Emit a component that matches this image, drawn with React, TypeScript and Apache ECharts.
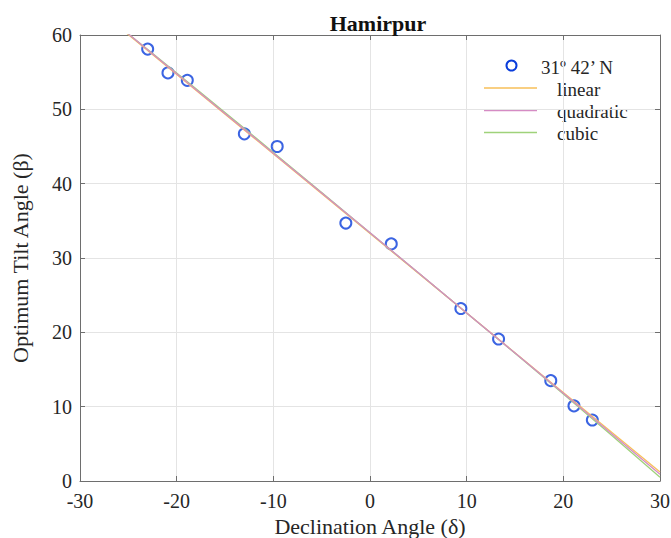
import React, { useEffect, useRef } from "react";
import * as echarts from "echarts";

// Observed data (declination angle vs optimum tilt angle)
const declination = [-23.0, -20.9, -18.9, -13.0, -9.6, -2.5, 2.2, 9.4, 13.3, 18.7, 21.1, 23.0];
const tilt = [58.1, 54.9, 53.9, 46.7, 45.0, 34.7, 31.9, 23.2, 19.1, 13.5, 10.1, 8.2];

// Fit curves
const linearX = [-30, 30];
const linearY = [65.4, 1.2];
const quadX = [-30, -20, -10, 0, 10, 20, 30];
const quadY = [65.5, 54.8, 44.1, 33.4, 22.6, 11.8, 0.9];
const cubicX = [-30, -20, -10, 0, 10, 20, 30];
const cubicY = [65.3, 54.9, 44.2, 33.4, 22.6, 11.7, 0.5];

const xTicks = { min: -30, max: 30, interval: 10 };
const yTicks = { min: 0, max: 60, interval: 10 };

const FONT = "'Liberation Serif', 'Times New Roman', serif";
const TEXT = "#262626";
const AXIS = "#6e6e6e";
const BLUE = "#0a3ddb";
const ORANGE = "#f7bf58";
const PINK = "#d58cc4";
const GREEN = "#9fd27a";

export default function App() {
  const ref = useRef<HTMLDivElement>(null);
  useEffect(() => {
    if (!ref.current) return;
    const chart = echarts.init(ref.current, undefined, { renderer: "svg" });
    const zip = (xs: number[], ys: number[]) => xs.map((x, i) => [x, ys[i]]);
    const tick = { show: true, inside: true, length: 5, lineStyle: { color: AXIS } };
    const line = { show: true, onZero: false, lineStyle: { color: AXIS } };
    chart.setOption({
      animation: false,
      backgroundColor: "#ffffff",
      title: {
        text: "Hamirpur",
        left: 373,
        top: 7,
        textAlign: "center",
        textStyle: { fontFamily: FONT, fontSize: 22, fontWeight: "bold", color: "#111" },
      },
      grid: { left: 80, right: 11, top: 35, bottom: 57, containLabel: false, outerBoundsMode: "none" },
      xAxis: [
        {
          type: "value",
          ...xTicks,
          name: "Declination Angle (δ)",
          nameLocation: "middle",
          nameGap: 32,
          nameTextStyle: { fontFamily: FONT, fontSize: 22, color: TEXT, lineHeight: 22 },
          axisLine: line,
          axisTick: tick,
          axisLabel: { fontFamily: FONT, fontSize: 20, color: TEXT, margin: 10 },
          splitLine: { show: true, lineStyle: { color: "#e4e4e4" } },
        },
        {
          type: "value",
          position: "top",
          ...xTicks,
          axisLine: line,
          axisTick: tick,
          axisLabel: { show: false },
          splitLine: { show: false },
        },
      ],
      yAxis: [
        {
          type: "value",
          ...yTicks,
          name: "Optimum Tilt Angle (β)",
          nameLocation: "middle",
          nameGap: 49,
          nameTextStyle: { fontFamily: FONT, fontSize: 22, color: TEXT },
          axisLine: line,
          axisTick: tick,
          axisLabel: { fontFamily: FONT, fontSize: 20, color: TEXT, margin: 8 },
          splitLine: { show: true, lineStyle: { color: "#e4e4e4" } },
        },
        {
          type: "value",
          position: "right",
          ...yTicks,
          axisLine: line,
          axisTick: tick,
          axisLabel: { show: false },
          splitLine: { show: false },
        },
      ],
      series: [
        {
          name: "31º 42’ N",
          type: "scatter",
          data: zip(declination, tilt),
          symbol: "circle",
          symbolSize: 11,
          itemStyle: { color: "rgba(0,0,0,0)", borderColor: BLUE, borderWidth: 2 },
          z: 2,
        },
        {
          name: "linear",
          type: "line",
          data: zip(linearX, linearY),
          showSymbol: false,
          clip: true,
          lineStyle: { color: ORANGE, width: 1.3 },
          z: 3,
        },
        {
          name: "quadratic",
          type: "line",
          data: zip(quadX, quadY),
          showSymbol: false,
          smooth: true,
          clip: true,
          lineStyle: { color: PINK, width: 1.3 },
          z: 4,
        },
        {
          name: "cubic",
          type: "line",
          data: zip(cubicX, cubicY),
          showSymbol: false,
          smooth: true,
          clip: true,
          lineStyle: { color: GREEN, width: 1.3 },
          z: 3,
        },
      ],
      graphic: [
        {
          type: "circle",
          shape: { cx: 511.5, cy: 65.5, r: 5 },
          style: { fill: "none", stroke: BLUE, lineWidth: 2 },
        },
        {
          type: "text",
          x: 541,
          y: 67,
          style: { text: "31º 42’ N", fontFamily: FONT, fontSize: 19, fill: TEXT, verticalAlign: "middle" },
        },
        { type: "line", shape: { x1: 484, y1: 88, x2: 537, y2: 88 }, style: { stroke: ORANGE, lineWidth: 1.3 } },
        {
          type: "text",
          x: 557,
          y: 89,
          style: { text: "linear", fontFamily: FONT, fontSize: 19, fill: TEXT, verticalAlign: "middle" },
        },
        { type: "line", shape: { x1: 484, y1: 110.5, x2: 537, y2: 110.5 }, style: { stroke: PINK, lineWidth: 1.3 } },
        {
          type: "text",
          x: 557,
          y: 111,
          style: { text: "quadratic", fontFamily: FONT, fontSize: 19, fill: TEXT, verticalAlign: "middle" },
        },
        { type: "line", shape: { x1: 484, y1: 132.5, x2: 537, y2: 132.5 }, style: { stroke: GREEN, lineWidth: 1.3 } },
        {
          type: "text",
          x: 557,
          y: 133,
          style: { text: "cubic", fontFamily: FONT, fontSize: 19, fill: TEXT, verticalAlign: "middle" },
        },
      ],
    });
    return () => chart.dispose();
  }, []);
  return (
    <div
      ref={ref}
      style={{ position: "fixed", left: 0, top: 0, width: 671, height: 538, background: "#fff" }}
    />
  );
}
